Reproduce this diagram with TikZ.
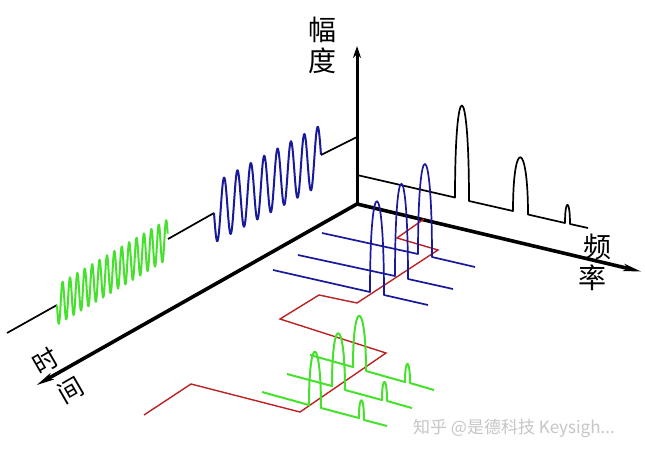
\documentclass[tikz,border=0pt]{standalone}
\usepackage{fontspec}
\newfontfamily\cjk{Noto Sans CJK SC}
\usetikzlibrary{arrows.meta}
\definecolor{sigblue}{RGB}{25,25,155}
\definecolor{siggreen}{RGB}{70,225,45}
\definecolor{sigred}{RGB}{185,35,35}

\begin{document}
\begin{tikzpicture}[x=1pt, y=-1pt,
  axis/.style={line width=3.6pt, -{Stealth[length=18pt,width=6pt,inset=3pt]}},
  lbl/.style={font=\cjk\fontsize{28}{30}\selectfont, inner sep=0pt},
  trace/.style={line width=1.7pt, line join=round}]
\fill[white] (0,0) rectangle (645,458);
\useasboundingbox (0,0) rectangle (645,458);
% time signal on the back wall
\draw[trace] (7,333) -- (57,305);
\draw[trace, siggreen, line width=2pt] plot[domain=0:1, samples=331] ({57+111*\x}, {305-66*\x+20*sin(15*360*\x)});
\draw[trace] (168,239) -- (214,213);
\draw[trace, sigblue, line width=2pt] plot[domain=0:1, samples=241] ({214+107*\x}, {213-58*\x+30*sin(8*360*\x)});
\draw[trace] (321,155) -- (357,137);
% spectrum on the side wall
\draw[trace] (357,175) -- (455,197.5) .. controls +(0,-125) and +(0,-125) .. (469,201)
  -- (513,211) .. controls +(0,-74) and +(0,-74) .. (528,214.5)
  -- (565,223) .. controls +(0,-25) and +(0,-25) .. (570,224) -- (588,228);
% axes
\coordinate (O) at (357,204);
\coordinate (amp) at (357,46);
\coordinate (frq) at (643,272);
\coordinate (tim) at (35,386);
\draw[line width=3pt, -{Stealth[length=12pt,width=8pt]}] (O) -- (amp);
\draw[axis] (O) -- (frq);
\draw[axis] (O) -- (tim);
\node[lbl] (amp1) at (322,30) {幅};
\node[lbl] (amp2) at (322,61) {度};
\node[lbl] (frq1) at (597,247) {频};
\node[lbl] (frq2) at (592,278) {率};
\node[lbl, font=\cjk\fontsize{25}{27}\selectfont, rotate=30] (tim1) at (46,361) {时};
\node[lbl, font=\cjk\fontsize{25}{27}\selectfont, rotate=30] (tim2) at (71,390) {间};
% frequency over time
\draw[sigred, line width=1.4pt] (424,219) -- (397,238) -- (438,250) -- (357,303) -- (319,295)
  -- (280,319) -- (386,353) -- (300,412) -- (191,384) -- (144,415);
% blue slices
\foreach \sx/\sy/\lx/\ly/\rx/\ry/\k/\ex/\ey in {322/233/418/254/432/257/122/475/267,
    298/255/395/276/408/279/125/453/289, 273/270/370/292/384/295/123/428/305}
  \draw[trace, sigblue] (\sx,\sy) -- (\lx,\ly) .. controls +(0,-\k) and +(0,-\k) .. (\rx,\ry) -- (\ex,\ey);
% green slices
\foreach \sx/\sy/\lx/\ly/\rx/\ry/\k/\px/\py/\qx/\qy/\m/\ex/\ey in {310/355/353/367/366/371/71/405/382/410/383/25/434/390,
    287/374/332/386/345/390/73/382/400/387/401/25/412/408, 262/392/309/405/321/408/73/359/418/364/420/25/387/426}
  \draw[trace, siggreen, line width=2pt] (\sx,\sy) -- (\lx,\ly) .. controls +(0,-\k) and +(0,-\k) .. (\rx,\ry)
    -- (\px,\py) .. controls +(0,-\m) and +(0,-\m) .. (\qx,\qy) -- (\ex,\ey);
\node[font=\cjk\fontsize{17}{20}\selectfont, text=gray!45, inner sep=0pt] (mark) at (514,428) {知乎 @是德科技 Keysigh...};
\end{tikzpicture}
\end{document}
